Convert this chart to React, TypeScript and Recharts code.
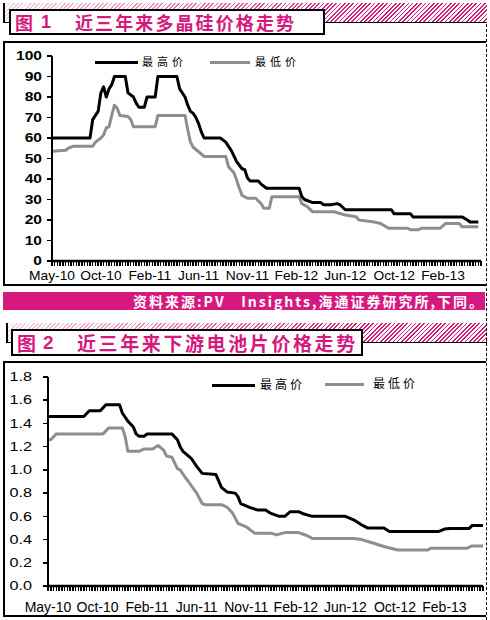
import React from 'react'
import { LineChart, Line, XAxis, YAxis } from 'recharts'

const MAGENTA = '#d6197e'
const GREY = '#8e8e8e'

// weekly series, x = weeks since May-10, one date label every 18 weeks
const dateLabels = ['May-10', 'Oct-10', 'Feb-11', 'Jun-11', 'Nov-11', 'Feb-12', 'Jun-12', 'Oct-12', 'Feb-13']
const LABEL_EVERY = 18
const LAST_WEEK = 158

// fig 1 - polysilicon, weeks where the price moves
const siHighWeeks = [0, 14, 15, 16, 17, 18, 19, 20, 21, 22, 23, 27, 28, 30, 31, 32, 34, 35, 38, 39, 46, 47, 49, 50, 51, 52, 53, 54, 55, 56, 62, 64, 66, 68, 70, 71, 72, 73, 76, 77, 79, 91, 92, 93, 96, 99, 100, 103, 105, 106, 108, 125, 126, 132, 133, 151, 153, 154, 157]
const siHighPrice = [60, 60, 69, 71, 73, 82, 85, 80, 84, 86, 90, 90, 82, 80, 77, 75, 75, 80, 80, 90, 90, 84, 80, 76, 73, 72, 70, 67, 63, 60, 60, 58, 54, 48.5, 45, 44.5, 40.5, 39, 39, 37.5, 35.5, 35.5, 31.5, 30, 28.5, 28.5, 27.5, 27.5, 28, 27.5, 25, 25, 23, 23, 21.5, 21.5, 20, 19, 19]
const siLowWeeks = [0, 5, 6, 8, 15, 16, 18, 19, 20, 21, 22, 23, 24, 25, 28, 29, 30, 38, 39, 49, 50, 51, 52, 54, 56, 64, 65, 67, 68, 69, 70, 72, 75, 77, 78, 80, 81, 91, 92, 94, 96, 104, 108, 112, 113, 118, 121, 124, 131, 132, 135, 136, 143, 145, 150, 151, 157]
const siLowPrice = [53.5, 54, 55, 56, 56, 58, 60, 61.5, 65, 65.5, 71, 76, 74.5, 71, 70.5, 69, 65.5, 65.5, 71, 71, 64, 58, 55.5, 53.3, 51, 51, 46, 43, 39.5, 35.5, 32, 30.6, 30.6, 28, 25.7, 25.7, 31.4, 31.4, 28, 26.5, 24, 24, 22.4, 21.6, 20, 19.2, 18.3, 16, 16, 15.2, 15.2, 16, 16, 18.3, 18.3, 16.7, 16.7]
const siTicks = [0, 10, 20, 30, 40, 50, 60, 70, 80, 90, 100]

// fig 2 - cells
const cellHighWeeks = [0, 13, 15, 19, 21, 26, 27, 29, 31, 32, 33, 35, 36, 45, 47, 48, 49, 50, 52, 54, 56, 61, 63, 65, 68, 69, 70, 73, 76, 79, 81, 84, 86, 88, 91, 93, 96, 108, 111, 114, 116, 122, 124, 142, 144, 146, 153, 154, 158]
const cellHighPrice = [1.46, 1.46, 1.51, 1.51, 1.56, 1.56, 1.49, 1.42, 1.37, 1.31, 1.29, 1.29, 1.31, 1.31, 1.26, 1.2, 1.16, 1.14, 1.1, 1.03, 0.97, 0.96, 0.85, 0.81, 0.8, 0.77, 0.71, 0.68, 0.655, 0.655, 0.625, 0.6, 0.6, 0.64, 0.64, 0.62, 0.6, 0.6, 0.57, 0.525, 0.5, 0.5, 0.47, 0.47, 0.49, 0.495, 0.495, 0.52, 0.52]
const cellLowWeeks = [0, 1, 3, 20, 22, 27, 28, 29, 33, 35, 38, 40, 42, 43, 45, 47, 48, 50, 51, 54, 56, 57, 63, 65, 67, 69, 72, 75, 81, 83, 86, 91, 94, 96, 111, 114, 118, 122, 127, 138, 139, 152, 154, 158]
const cellLowPrice = [1.26, 1.26, 1.31, 1.31, 1.36, 1.36, 1.29, 1.16, 1.16, 1.18, 1.18, 1.21, 1.17, 1.12, 1.11, 1.01, 1.0, 0.93, 0.9, 0.8, 0.71, 0.7, 0.7, 0.68, 0.63, 0.54, 0.51, 0.455, 0.455, 0.44, 0.46, 0.46, 0.435, 0.41, 0.41, 0.4, 0.37, 0.34, 0.31, 0.31, 0.325, 0.325, 0.345, 0.345]
const cellTicks = [0, 0.2, 0.4, 0.6, 0.8, 1.0, 1.2, 1.4, 1.6, 1.8]

const weekTicks = Array.from({ length: LAST_WEEK + 1 }, (_, i) => i)
const toRows = (weeks: number[], prices: number[]) => weeks.map((w, i) => ({ w, v: prices[i] }))

const LATIN = '"Liberation Sans", Arial, sans-serif'
const CJK = '"Noto Sans CJK SC", sans-serif'

// tick mark drawn by the tick itself, label only every LABEL_EVERY weeks
const XTick = ({ x, y, payload, size, sx, len, gap }: any) => {
  const i = payload.value / LABEL_EVERY
  const label = Number.isInteger(i) ? dateLabels[i] : undefined
  const top = y - gap - len
  return (
    <g>
      <line x1={x} x2={x} y1={top} y2={top + len + 1} stroke="#000" strokeWidth={1.5} shapeRendering="crispEdges" />
      {label && (
        <text transform={`translate(${x},${y}) scale(${sx},1)`} textAnchor="middle" dy="0.71em"
          fontSize={size} fontFamily={LATIN} fill="#000">
          {label}
        </text>
      )}
    </g>
  )
}

const YTick = ({ x, y, payload, size, sx, bold, digits, len, gap }: any) => (
  <g>
    <line x1={x + gap} x2={x + gap + len} y1={y} y2={y} stroke="#000" strokeWidth={1.5} shapeRendering="crispEdges" />
    <text transform={`translate(${x},${y}) scale(${sx},1)`} textAnchor="end" dy="0.35em"
      fontSize={size} fontWeight={bold ? 700 : 400} fontFamily={LATIN} fill="#000">
      {digits ? Number(payload.value).toFixed(digits) : payload.value}
    </text>
  </g>
)

const Header = ({ top, bandLeft, boxLeft, boxW, boxH, num, title, fs, ls, numLeft, titleLeft }: any) => (
  <>
    <div style={{
      position: 'absolute', left: bandLeft, top, width: 487 - bandLeft, height: 20, boxSizing: 'border-box',
      borderLeft: '2px solid #000', borderBottom: '1.5px solid #000',
      background: `linear-gradient(to right, rgba(255,255,255,0.8), rgba(255,255,255,0) 75%), repeating-linear-gradient(135deg, ${MAGENTA} 0 1.2px, #fff 1.2px 3px)`,
    }} />
    <div style={{
      position: 'absolute', left: boxLeft, top: top + 6, width: boxW, height: boxH,
      boxSizing: 'border-box', border: '2px solid #000', background: '#fff',
    }} />
    <div style={{ position: 'absolute', top: top + 10, left: boxLeft + 6, fontFamily: CJK, fontWeight: 700, fontSize: fs, lineHeight: `${fs}px`, color: MAGENTA }}>图</div>
    <div style={{ position: 'absolute', top: top + 10, left: numLeft, fontFamily: LATIN, fontWeight: 700, fontSize: fs, lineHeight: `${fs}px`, color: MAGENTA }}>{num}</div>
    <div style={{ position: 'absolute', top: top + 10, left: titleLeft, fontFamily: CJK, fontWeight: 700, fontSize: fs, lineHeight: `${fs}px`, letterSpacing: ls, color: MAGENTA, whiteSpace: 'nowrap' }}>{title}</div>
  </>
)

const KeyMark = ({ lineLeft, lineW, textLeft, y, color, label, fs, ls }: any) => (
  <>
    <div style={{ position: 'absolute', left: lineLeft, top: y - 1.5, width: lineW, height: 3, background: color }} />
    <div style={{ position: 'absolute', left: textLeft, top: y - fs / 2 - 1, fontFamily: CJK, fontWeight: 400, fontSize: fs, lineHeight: `${fs}px`, letterSpacing: ls, color: '#000', whiteSpace: 'nowrap' }}>{label}</div>
  </>
)

const Frame = ({ top, height }: any) => (
  <div style={{
    position: 'absolute', left: 3, top, width: 483, height, boxSizing: 'border-box',
    borderTop: '2px solid #000', borderLeft: '2px solid #000', borderBottom: '2px solid #000',
  }} />
)

const axisLine = { stroke: '#000', strokeWidth: 2.5 }

export default function App() {
  return (
    <div style={{ position: 'relative', width: 490, height: 620, background: '#fff', overflow: 'hidden' }}>
      <style>{'body{margin:0}'}</style>

      <Header top={3} bandLeft={3} boxLeft={9} boxW={316} boxH={26} num="1" title="近三年来多晶硅价格走势"
        fs={18} ls={2.1} numLeft={41} titleLeft={75} />

      <Frame top={41} height={245} />
      <div style={{ position: 'absolute', left: 0, top: 40 }}>
        <LineChart width={490} height={250} margin={{ top: 16, right: 9, bottom: 2, left: 8 }}>
          <XAxis type="number" dataKey="w" domain={[0, LAST_WEEK]} ticks={weekTicks} interval={0}
            height={27} tickSize={4} tickMargin={6} axisLine={axisLine} tickLine={false}
            tick={(p: any) => <XTick {...p} size={12} sx={1.15} len={4} gap={6} />} />
          <YAxis type="number" domain={[0, 100]} ticks={siTicks} interval={0} width={44}
            tickSize={5} tickMargin={5} axisLine={{ stroke: '#000', strokeWidth: 2 }} tickLine={false}
            tick={(p: any) => <YTick {...p} size={12} sx={1.3} bold len={5} gap={5} />} />
          <Line data={toRows(siLowWeeks, siLowPrice)} dataKey="v" type="linear" stroke={GREY} strokeWidth={3}
            dot={false} strokeLinejoin="round" isAnimationActive={false} />
          <Line data={toRows(siHighWeeks, siHighPrice)} dataKey="v" type="linear" stroke="#000" strokeWidth={3}
            dot={false} strokeLinejoin="round" isAnimationActive={false} />
        </LineChart>
      </div>
      <KeyMark lineLeft={95} lineW={43} textLeft={142} y={62} color="#000" label="最高价" fs={11} ls={4} />
      <KeyMark lineLeft={210} lineW={40} textLeft={255} y={62} color={GREY} label="最低价" fs={11} ls={4} />

      <div style={{
        position: 'absolute', left: 3, top: 292, width: 482, height: 18, background: MAGENTA,
        color: '#fff', fontFamily: CJK, fontWeight: 700, fontSize: 14, lineHeight: '18px',
        letterSpacing: 2, textAlign: 'right', whiteSpace: 'pre', boxSizing: 'border-box', paddingRight: 0,
      }}>
        资料来源:PV   Insights,海通证券研究所,下同。
      </div>

      <Header top={323} bandLeft={6} boxLeft={11} boxW={352} boxH={27} num="2" title="近三年来下游电池片价格走势"
        fs={19} ls={2.6} numLeft={43} titleLeft={77} />

      <Frame top={361} height={256} />
      <div style={{ position: 'absolute', left: 0, top: 362 }}>
        <LineChart width={490} height={255} margin={{ top: 15, right: 7, bottom: 2, left: 8 }}>
          <XAxis type="number" dataKey="w" domain={[0, LAST_WEEK]} ticks={weekTicks} interval={0}
            height={29} tickSize={4} tickMargin={12} axisLine={axisLine} tickLine={false}
            tick={(p: any) => <XTick {...p} size={14} sx={1.0} len={4} gap={12} />} />
          <YAxis type="number" domain={[0, 1.8]} ticks={cellTicks} interval={0} width={40}
            tickSize={5} tickMargin={11} axisLine={{ stroke: '#000', strokeWidth: 2 }} tickLine={false}
            tick={(p: any) => <YTick {...p} size={12} sx={1.35} digits={1} len={5} gap={11} />} />
          <Line data={toRows(cellLowWeeks, cellLowPrice)} dataKey="v" type="linear" stroke={GREY} strokeWidth={3}
            dot={false} strokeLinejoin="round" isAnimationActive={false} />
          <Line data={toRows(cellHighWeeks, cellHighPrice)} dataKey="v" type="linear" stroke="#000" strokeWidth={3}
            dot={false} strokeLinejoin="round" isAnimationActive={false} />
        </LineChart>
      </div>
      <KeyMark lineLeft={212} lineW={43} textLeft={260} y={385} color="#000" label="最高价" fs={12} ls={3} />
      <KeyMark lineLeft={325} lineW={39} textLeft={373} y={384} color={GREY} label="最低价" fs={12} ls={3} />

      {/* dashed right edge running down the page */}
      <div style={{ position: 'absolute', left: 486, top: 24, height: 596, borderLeft: '1px dashed #000' }} />
    </div>
  )
}
